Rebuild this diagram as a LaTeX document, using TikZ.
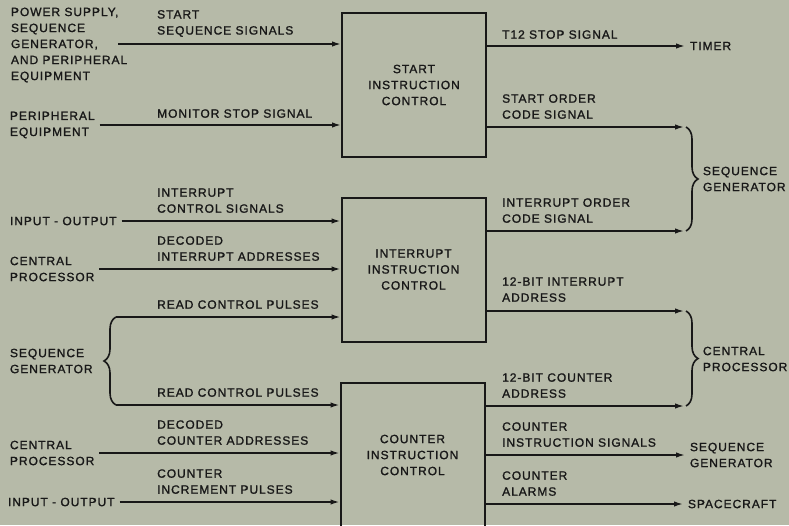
\documentclass[tikz,border=0pt]{standalone}
\usepackage{fontspec}
\newfontfamily\leroy[LetterSpace=8,FakeBold=1.3]{Liberation Sans}
\usepackage{xcolor}
\definecolor{paper}{HTML}{B6BAA8}
\definecolor{ink}{HTML}{181818}
\usetikzlibrary{arrows.meta,positioning,decorations.pathreplacing}
\newcommand{\lettering}{\leroy\fontsize{12}{16}\selectfont}

\begin{document}
\begin{tikzpicture}[x=1pt,y=-1pt,>={Latex[length=9pt,width=5.5pt]}]
\tikzset{
 unit/.style={draw=ink,line width=2pt,minimum width=144pt,minimum height=144pt,align=center,font=\lettering,text=ink},
 lbl/.style={align=left,inner sep=0pt,anchor=south west,font=\lettering,text=ink},
 ext/.style={align=left,inner sep=0pt,outer sep=5pt,anchor=west,font=\lettering,text=ink},
 sig/.style={->,draw=ink,line width=1.6pt},
 curly/.style={draw=ink,line width=1.6pt,decorate,decoration={brace,amplitude=12pt}}
}
\fill[paper] (0,0) rectangle (789,525);
\useasboundingbox (0,0) rectangle (789,525);

% control units
\node[unit] (start) at (414,85) {START\\INSTRUCTION\\CONTROL};
\node[unit] (intr) at (413.5,269.5) {INTERRUPT\\INSTRUCTION\\CONTROL};
\node[unit] (cntr) at (412.5,455) {COUNTER\\INSTRUCTION\\CONTROL};

% sources
\node[ext] (ps) at (6,45) {POWER SUPPLY,\\SEQUENCE\\GENERATOR,\\AND PERIPHERAL\\EQUIPMENT};
\node[ext] (peq) at (5,125) {PERIPHERAL\\EQUIPMENT};
\node[ext] (io1) at (5,221) {INPUT - OUTPUT};
\node[ext] (cp1) at (5,269) {CENTRAL\\PROCESSOR};
\node[ext] (sg1) at (5,361) {SEQUENCE\\GENERATOR};
\node[ext] (cp2) at (5,453) {CENTRAL\\PROCESSOR};
\node[ext] (io2) at (3,502) {INPUT - OUTPUT};

% destinations
\node[ext] (timer) at (685,46) {TIMER};
\node[ext] (sg2) at (698,179) {SEQUENCE\\GENERATOR};
\node[ext] (cp3) at (698,359) {CENTRAL\\PROCESSOR};
\node[ext] (sg3) at (685,455) {SEQUENCE\\GENERATOR};
\node[ext] (craft) at (683,504) {SPACECRAFT};

\coordinate (psout) at (118,44);
\coordinate (rt) at (116,317);
\coordinate (rb) at (116,405);
\coordinate (bA) at (686,127);
\coordinate (bB) at (686,231);
\coordinate (bC) at (686,311);
\coordinate (bD) at (686,406);

% inputs
\draw[sig] (psout) -- (start.west |- psout);
\draw[sig] (peq.east) -- (start.west |- peq.east);
\draw[sig] (io1.east) -- (intr.west |- io1.east);
\draw[sig] (cp1.east) -- (intr.west |- cp1.east);
\draw[curly] (rb) -- (rt);
\draw[sig] (rt) -- (intr.west |- rt);
\draw[sig] (rb) -- (cntr.west |- rb);
\draw[sig] (cp2.east) -- (cntr.west |- cp2.east);
\draw[sig] (io2.east) -- (cntr.west |- io2.east);

% outputs
\draw[sig] (start.east |- timer) -- (timer);
\draw[sig,shorten >=2pt] (start.east |- bA) -- (bA);
\draw[sig,shorten >=2pt] (intr.east |- bB) -- (bB);
\draw[curly] (bA) -- (bB);
\draw[sig,shorten >=2pt] (intr.east |- bC) -- (bC);
\draw[sig,shorten >=2pt] (cntr.east |- bD) -- (bD);
\draw[curly] (bC) -- (bD);
\draw[sig] (cntr.east |- sg3) -- (sg3);
\draw[sig] (cntr.east |- craft) -- (craft);

% signal names
\node[lbl] (l1) at (157,37) {START\\SEQUENCE SIGNALS};
\node[lbl] (l2) at (157,118) {MONITOR STOP SIGNAL};
\node[lbl] (l3) at (157,213) {INTERRUPT\\CONTROL SIGNALS};
\node[lbl] (l4) at (157,261) {DECODED\\INTERRUPT ADDRESSES};
\node[lbl] (l5) at (157,309) {READ CONTROL PULSES};
\node[lbl] (l6) at (157,397) {READ CONTROL PULSES};
\node[lbl] (l7) at (157,445) {DECODED\\COUNTER ADDRESSES};
\node[lbl] (l8) at (157,494) {COUNTER\\INCREMENT PULSES};
\node[lbl] (r1) at (502,39) {T12 STOP SIGNAL};
\node[lbl] (r2) at (502,119) {START ORDER\\CODE SIGNAL};
\node[lbl] (r3) at (502,223) {INTERRUPT ORDER\\CODE SIGNAL};
\node[lbl] (r4) at (502,302) {12-BIT INTERRUPT\\ADDRESS};
\node[lbl] (r5) at (502,398) {12-BIT COUNTER\\ADDRESS};
\node[lbl] (r6) at (502,447) {COUNTER\\INSTRUCTION SIGNALS};
\node[lbl] (r7) at (502,496) {COUNTER\\ALARMS};
\end{tikzpicture}
\end{document}
